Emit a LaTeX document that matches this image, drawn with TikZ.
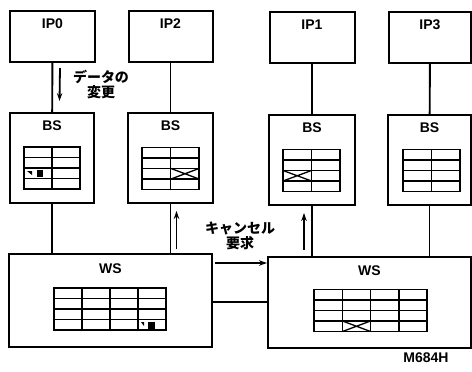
\documentclass[tikz,border=0pt]{standalone}
\usepackage{fontspec}
\setmainfont{Liberation Sans}
\newfontfamily\jpfont{Noto Sans CJK JP}
\usetikzlibrary{arrows.meta}

\begin{document}
\begin{tikzpicture}[x=1pt,y=-1pt]%
        \tikzset{%
            unit/.style={draw, line width=2pt, inner sep=0pt},
            title/.style={font=\fontsize{14}{16}\selectfont\bfseries, inner sep=0pt},
            note/.style={font=\fontsize{14}{14.5}\selectfont\jpfont\bfseries, align=center, inner sep=0pt},
            wire/.style={line width=1.9pt},
            flow/.style={line width=1.8pt, -{Stealth[length=8pt,width=5.5pt]}},
            cross/.style={line width=1.3pt},
        }%
        \useasboundingbox (0,0) rectangle (472,372);
        % processors and buffer stores
        \node[unit, minimum width=85pt, minimum height=51pt] (ip0) at (52.5,36.5) {};
        \node[unit, minimum width=84pt, minimum height=51pt] (ip2) at (170.5,36.5) {};
        \node[unit, minimum width=85pt, minimum height=51pt] (ip1) at (312,37.5) {};
        \node[unit, minimum width=82pt, minimum height=51pt] (ip3) at (430,37.5) {};
        \node[unit, minimum width=84pt, minimum height=90pt] (bs1) at (52,158) {};
        \node[unit, minimum width=85pt, minimum height=90pt] (bs2) at (170.5,158) {};
        \node[unit, minimum width=86pt, minimum height=90pt] (bs3) at (312,160) {};
        \node[unit, minimum width=83pt, minimum height=90pt] (bs4) at (429.5,160) {};
        \node[unit, minimum width=203pt, minimum height=93pt] (ws1) at (110.5,300.5) {};
        \node[unit, minimum width=203pt, minimum height=91pt] (ws2) at (369.5,302.5) {};
        \foreach \n/\t in {ip0/IP0, ip2/IP2, ip1/IP1, ip3/IP3, bs1/BS, bs2/BS, bs3/BS, bs4/BS}
            \node[title] at ([yshift=-14pt]\n.north) {\t};
        \node[title] at ([yshift=-16pt]ws1.north) {WS};
        \node[title] at ([yshift=-15pt]ws2.north) {WS};
        % tables
        \foreach \cx/\cy/\nc/\w in {52/168/2/56, 170.5/168.5/2/57, 311.5/170.5/2/57, 431.5/170.5/2/57, 110/309/4/112, 370.5/310.5/4/113} {
            \draw[line width=1.8pt] (\cx-\w/2,\cy-21) rectangle (\cx+\w/2,\cy+21);
            \foreach \k in {1,2,3}
                \draw[line width=1.3pt] (\cx-\w/2,\cy-21+10.5*\k) -- (\cx+\w/2,\cy-21+10.5*\k);
            \pgfmathtruncatemacro\last{\nc-1}
            \foreach \k in {1,...,\last}
                \draw[line width=1.5pt] (\cx-\w/2+\w/\nc*\k,\cy-21) -- (\cx-\w/2+\w/\nc*\k,\cy+21);
        }
        % cancelled entries
        \draw[cross] (171,168.5) -- (199,179) (171,179) -- (199,168.5);
        \draw[cross] (283,170.5) -- (311.5,181) (283,181) -- (311.5,170.5);
        \draw[cross] (342.5,321) -- (370.5,331.5) (342.5,331.5) -- (370.5,321);
        % changed entries
        \fill (37,169.5) rectangle (43,177);
        \fill (27,171) -- (32,171) -- (32,175) -- cycle;
        \fill (148,322) rectangle (155,329.5);
        \fill (141,322) -- (144,322) -- (144,326) -- cycle;
        % buses
        \draw[wire] (ip0) -- (bs1);
        \draw[wire] (ip2) -- (bs2);
        \draw[wire] (ip1) -- (bs3);
        \draw[wire] (ip3) -- (bs4);
        \draw[wire] (bs1.south) -- (bs1.south |- ws1.north);
        \draw[wire] (bs2.south) -- (bs2.south |- ws1.north);
        \draw[wire] (bs3.south) -- (bs3.south |- ws2.north);
        \draw[wire] (bs4.south) -- (bs4.south |- ws2.north);
        \draw[wire] ([yshift=-1.5pt]ws1.east) -- ([yshift=-1.5pt]ws1.east -| ws2.west);
        % messages
        \draw[flow] ([xshift=7.5pt,yshift=-5pt]ip0.south) -- ([xshift=7.5pt,yshift=11pt]bs1.north);
        \draw[flow] ([xshift=6pt,yshift=4pt]bs2.south |- ws1.north) -- ([xshift=6pt,yshift=-7pt]bs2.south);
        \draw[flow] ([xshift=-8pt,yshift=6pt]bs3.south |- ws2.north) -- ([xshift=-8pt,yshift=-7pt]bs3.south);
        \draw[flow] ([xshift=2pt,yshift=-10pt]ws1.north east) -- ([yshift=-10pt]ws1.north east -| ws2.west);
        \node[note] (change) at (101,84.5) {データの\\変更};
        \node[note] (cancel) at (240,236) {キャンセル\\要求};
        \node[title] (figno) at (426,358) {M684H};
    \end{tikzpicture}
\end{document}
